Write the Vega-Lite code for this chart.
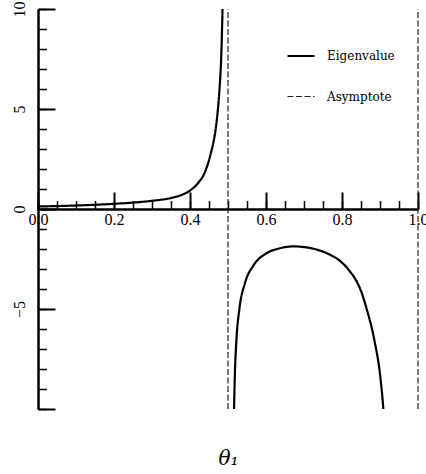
{
  "$schema": "https://vega.github.io/schema/vega-lite/v6.json",
  "width": 380,
  "height": 400,
  "autosize": {"type": "none"},
  "padding": {"left": 38, "top": 9, "right": 8, "bottom": 65},
  "background": "white",
  "config": {
    "view": {"stroke": null},
    "axis": {
      "labelFont": "Liberation Serif",
      "labelFontSize": 16,
      "labelColor": "#000000",
      "domainColor": "#000000",
      "tickColor": "#000000",
      "grid": false,
      "labelFlush": false,
      "labelOverlap": false,
      "labelBound": false
    },
    "legend": {
      "orient": "none",
      "legendX": 248,
      "legendY": 32,
      "title": null,
      "symbolType": "stroke",
      "symbolSize": 729,
      "labelFont": "DejaVu Serif",
      "labelFontSize": 12,
      "labelColor": "#000000",
      "labelOffset": 11,
      "rowPadding": 20,
      "padding": 0
    }
  },
  "datasets": {
    "curve": [
      {"theta": 0.0, "value": 0.13, "branch": "a", "series": "Eigenvalue"},
      {"theta": 0.05, "value": 0.145, "branch": "a", "series": "Eigenvalue"},
      {"theta": 0.1, "value": 0.175, "branch": "a", "series": "Eigenvalue"},
      {"theta": 0.15, "value": 0.21, "branch": "a", "series": "Eigenvalue"},
      {"theta": 0.2, "value": 0.26, "branch": "a", "series": "Eigenvalue"},
      {"theta": 0.25, "value": 0.32, "branch": "a", "series": "Eigenvalue"},
      {"theta": 0.3, "value": 0.41, "branch": "a", "series": "Eigenvalue"},
      {"theta": 0.35, "value": 0.55, "branch": "a", "series": "Eigenvalue"},
      {"theta": 0.38, "value": 0.72, "branch": "a", "series": "Eigenvalue"},
      {"theta": 0.4, "value": 0.92, "branch": "a", "series": "Eigenvalue"},
      {"theta": 0.42, "value": 1.27, "branch": "a", "series": "Eigenvalue"},
      {"theta": 0.44, "value": 1.88, "branch": "a", "series": "Eigenvalue"},
      {"theta": 0.455, "value": 2.8, "branch": "a", "series": "Eigenvalue"},
      {"theta": 0.466, "value": 3.8, "branch": "a", "series": "Eigenvalue"},
      {"theta": 0.472, "value": 4.7, "branch": "a", "series": "Eigenvalue"},
      {"theta": 0.476, "value": 5.55, "branch": "a", "series": "Eigenvalue"},
      {"theta": 0.4795, "value": 6.55, "branch": "a", "series": "Eigenvalue"},
      {"theta": 0.4816, "value": 7.35, "branch": "a", "series": "Eigenvalue"},
      {"theta": 0.4835, "value": 8.4, "branch": "a", "series": "Eigenvalue"},
      {"theta": 0.485, "value": 9.5, "branch": "a", "series": "Eigenvalue"},
      {"theta": 0.4865, "value": 10.9, "branch": "a", "series": "Eigenvalue"},
      {"theta": 0.514, "value": -11.0, "branch": "b", "series": "Eigenvalue"},
      {"theta": 0.5158, "value": -10.0, "branch": "b", "series": "Eigenvalue"},
      {"theta": 0.518, "value": -8.3, "branch": "b", "series": "Eigenvalue"},
      {"theta": 0.522, "value": -6.6, "branch": "b", "series": "Eigenvalue"},
      {"theta": 0.5303, "value": -4.95, "branch": "b", "series": "Eigenvalue"},
      {"theta": 0.5447, "value": -3.7, "branch": "b", "series": "Eigenvalue"},
      {"theta": 0.5667, "value": -2.83, "branch": "b", "series": "Eigenvalue"},
      {"theta": 0.6017, "value": -2.21, "branch": "b", "series": "Eigenvalue"},
      {"theta": 0.635, "value": -1.97, "branch": "b", "series": "Eigenvalue"},
      {"theta": 0.672, "value": -1.87, "branch": "b", "series": "Eigenvalue"},
      {"theta": 0.71, "value": -1.93, "branch": "b", "series": "Eigenvalue"},
      {"theta": 0.742, "value": -2.08, "branch": "b", "series": "Eigenvalue"},
      {"theta": 0.77, "value": -2.3, "branch": "b", "series": "Eigenvalue"},
      {"theta": 0.795, "value": -2.6, "branch": "b", "series": "Eigenvalue"},
      {"theta": 0.82, "value": -3.1, "branch": "b", "series": "Eigenvalue"},
      {"theta": 0.8373, "value": -3.58, "branch": "b", "series": "Eigenvalue"},
      {"theta": 0.852, "value": -4.2, "branch": "b", "series": "Eigenvalue"},
      {"theta": 0.8637, "value": -4.92, "branch": "b", "series": "Eigenvalue"},
      {"theta": 0.8855, "value": -6.59, "branch": "b", "series": "Eigenvalue"},
      {"theta": 0.9, "value": -8.26, "branch": "b", "series": "Eigenvalue"},
      {"theta": 0.9088, "value": -10.0, "branch": "b", "series": "Eigenvalue"},
      {"theta": 0.911, "value": -10.6, "branch": "b", "series": "Eigenvalue"}
    ],
    "asymptotes": [
      {"theta": 0.5, "series": "Asymptote"},
      {"theta": 1.0, "series": "Asymptote"}
    ]
  },
  "resolve": {"axis": {"x": "independent", "y": "independent"}},
  "layer": [
    {
      "data": {"name": "curve"},
      "mark": {"type": "line", "clip": true, "interpolate": "monotone"},
      "encoding": {
        "x": {
          "field": "theta", "type": "quantitative",
          "scale": {"domain": [0, 1], "nice": false, "zero": false},
          "axis": {
            "orient": "bottom", "offset": -200,
            "values": [0, 0.05, 0.1, 0.15, 0.2, 0.25, 0.3, 0.35, 0.4, 0.45, 0.5, 0.55, 0.6, 0.65, 0.7, 0.75, 0.8, 0.85, 0.9, 0.95, 1.0],
            "tickSize": -8.5, "tickWidth": 1.5, "labels": false,
            "domain": true, "domainWidth": 2.5, "title": null
          }
        },
        "y": {
          "field": "value", "type": "quantitative",
          "scale": {"domain": [-10, 10], "nice": false, "zero": false},
          "axis": {
            "orient": "left",
            "values": [-10, -9, -8, -7, -6, -5, -4, -3, -2, -1, 0, 1, 2, 3, 4, 5, 6, 7, 8, 9, 10],
            "tickSize": -8.5, "tickWidth": 1.5, "labels": false,
            "domain": true, "domainWidth": 2.5, "title": null
          }
        },
        "detail": {"field": "branch"},
        "color": {
          "field": "series", "type": "nominal",
          "scale": {"domain": ["Eigenvalue", "Asymptote"], "range": ["#000000", "#222222"]}
        },
        "strokeDash": {
          "field": "series", "type": "nominal",
          "scale": {"domain": ["Eigenvalue", "Asymptote"], "range": [[1, 0], [6, 2.5]]}
        },
        "strokeWidth": {
          "field": "series", "type": "nominal",
          "scale": {"domain": ["Eigenvalue", "Asymptote"], "range": [2.2, 1.2]}
        }
      }
    },
    {
      "data": {"name": "asymptotes"},
      "mark": {"type": "rule"},
      "encoding": {
        "x": {
          "field": "theta", "type": "quantitative",
          "scale": {"domain": [0, 1], "nice": false, "zero": false},
          "axis": {
            "orient": "bottom", "offset": -200,
            "values": [0, 0.2, 0.4, 0.6, 0.8, 1.0],
            "format": ".1f",
            "tickSize": -17, "tickWidth": 2, "labelPadding": 19,
            "domain": false,
            "title": "θ₁", "titleFont": "DejaVu Serif", "titleFontStyle": "italic",
            "titleFontWeight": "normal", "titleFontSize": 20, "titleColor": "#000000",
            "titleY": 239, "titleBaseline": "top"
          }
        },
        "y": {
          "datum": -10, "type": "quantitative",
          "axis": {
            "orient": "left",
            "values": [-10, -5, 0, 5, 10],
            "tickSize": -17, "tickWidth": 2,
            "labelAngle": -90, "labelAlign": "center", "labelBaseline": "alphabetic",
            "labelPadding": 31,
            "labelExpr": "datum.value === -10 ? '' : datum.label",
            "domain": false, "title": null
          }
        },
        "y2": {"datum": 10},
        "color": {
          "field": "series", "type": "nominal",
          "scale": {"domain": ["Eigenvalue", "Asymptote"], "range": ["#000000", "#222222"]}
        },
        "strokeDash": {
          "field": "series", "type": "nominal",
          "scale": {"domain": ["Eigenvalue", "Asymptote"], "range": [[1, 0], [6, 2.5]]}
        },
        "strokeWidth": {
          "field": "series", "type": "nominal",
          "scale": {"domain": ["Eigenvalue", "Asymptote"], "range": [2.2, 1.2]}
        }
      }
    }
  ]
}
